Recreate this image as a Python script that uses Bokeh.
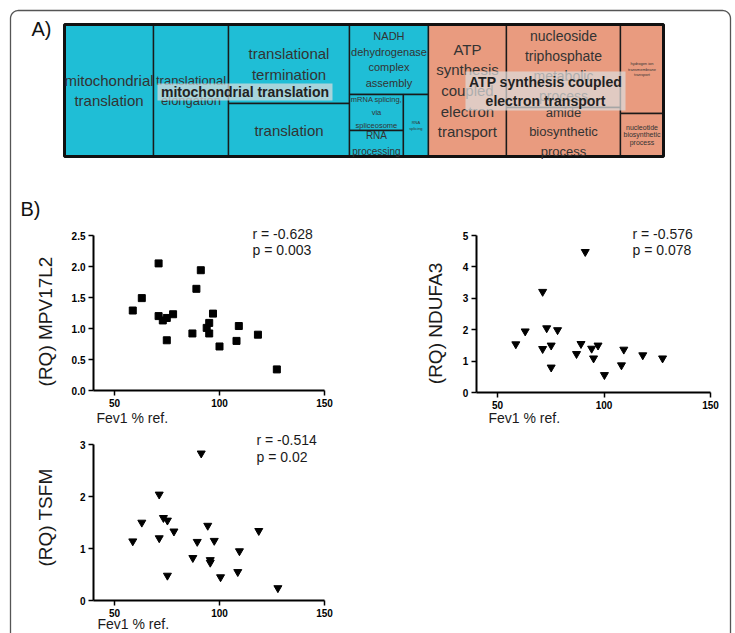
import numpy as np
from bokeh.plotting import figure
from bokeh.models import Range1d, LinearAxis, FixedTicker, NumeralTickFormatter
from bokeh.core.properties import value
from bokeh.embed import file_html
from bokeh.resources import INLINE

# ---------------- data ----------------
# A) REVIGO treemap of enriched GO terms (relative term sizes)
term_labels = [
    "mitochondrial\ntranslation",
    "translational\nelongation",
    "translational\ntermination",
    "translation",
    "NADH\ndehydrogenase\ncomplex\nassembly",
    "mRNA splicing,\nvia\nspliceosome",
    "RNA\nprocessing",
    "RNA\nsplicing",
    "ATP\nsynthesis\ncoupled\nelectron\ntransport",
    "nucleoside\ntriphosphate\nmetabolic\nprocess",
    "amide\nbiosynthetic\nprocess",
    "hydrogen ion\ntransmembrane\ntransport",
    "nucleotide\nbiosynthetic\nprocess",
]
term_sizes = [117.5, 99.0, 95.6, 64.1, 55.3, 19.4, 14.0, 15.5, 103.0, 94.6, 55.9, 38.3, 18.5]
term_cluster = [0, 0, 0, 0, 0, 0, 0, 0, 1, 1, 1, 1, 1]
cluster_names = ["mitochondrial translation", "ATP synthesis coupled\nelectron transport"]

# B) qPCR expression (RQ) against lung function (FEV1 % predicted)
fev1_mpv17l2 = [58.7, 63.0, 71.0, 71.0, 73.0, 74.9, 74.9, 77.9, 87.1, 89.0,
                91.1, 93.9, 95.1, 95.1, 96.9, 100.0, 108.1, 109.2, 118.3, 127.3]
rq_mpv17l2 = [1.29, 1.49, 2.05, 1.20, 1.13, 1.17, 0.81, 1.23, 0.92, 1.64,
              1.94, 1.01, 1.09, 0.92, 1.24, 0.71, 0.80, 1.04, 0.90, 0.34]

fev1_ndufa3 = [58.6, 63.0, 71.2, 71.2, 73.1, 75.2, 75.2, 78.2, 87.1, 89.2,
               91.2, 94.2, 95.1, 97.2, 100.2, 108.2, 109.3, 118.2, 127.5]
rq_ndufa3 = [1.54, 1.95, 3.21, 1.39, 2.05, 1.50, 0.80, 1.99, 1.23, 1.55,
             4.48, 1.40, 1.09, 1.50, 0.56, 0.87, 1.37, 1.19, 1.09]

fev1_tsfm = [58.7, 63.0, 71.3, 71.3, 73.3, 75.2, 75.2, 78.3, 87.3, 89.4,
             91.3, 94.4, 95.6, 95.6, 97.5, 100.5, 108.7, 109.5, 118.7, 127.8]
rq_tsfm = [1.14, 1.50, 2.04, 1.20, 1.59, 1.54, 0.48, 1.33, 0.82, 1.13,
           2.83, 1.44, 0.78, 0.73, 1.15, 0.45, 0.55, 0.95, 1.34, 0.24]

corr_text = [("r = -0.628", "p = 0.003"), ("r = -0.576", "p = 0.078"), ("r = -0.514", "p = 0.02")]
gene_names = ["(RQ) MPV17L2", "(RQ) NDUFA3", "(RQ) TSFM"]
x_title = "Fev1 % ref."

# slice-and-dice nesting of the treemap (indices into the term lists)
tree = ("h", [
    ("h", [0, 1, ("v", [2, 3]), ("v", [4, ("h", [("v", [5, 6]), 7])])]),
    ("h", [8, ("v", [9, 10]), ("v", [11, 12])]),
])

# ---------------- styling ----------------
W, H = 735, 633
FONT = "Liberation Sans"
cluster_colors = ["#1fbed6", "#e99b7f"]
label_sizes = [15, 13, 15, 15, 11, 7.5, 10, 4, 15, 14, 13, 4, 7]
label_heights = [1.22, 1.27, 1.22, 1.22, 1.3, 1.4, 1.5, 1.15, 1.22, 1.27, 1.27, 1.15, 1.1]

p = figure(width=W, height=H, x_range=Range1d(0, W), y_range=Range1d(H, 0),
           x_axis_type=None, y_axis_type=None, toolbar_location=None,
           output_backend="svg", min_border=0, outline_line_color=None)
p.background_fill_color = "white"
p.border_fill_color = "white"

# rounded panel border
rad = 8
arc1 = np.linspace(np.pi, 1.5 * np.pi, 12)
arc2 = np.linspace(1.5 * np.pi, 2 * np.pi, 12)
bx = [10] + list(10 + rad + rad * np.cos(arc1)) + list(730 - rad + rad * np.cos(arc2)) + [730]
by = [660] + list(10 + rad + rad * np.sin(arc1)) + list(10 + rad + rad * np.sin(arc2)) + [660]
p.line(bx, by, line_color="#555555", line_width=1.3)

# panel letters
p.text([31, 20], [28, 208], text=["A)", "B)"], text_font=value(FONT), text_font_size="20px",
       text_align="left", text_baseline="middle", text_color="#111111")

# ---------------- treemap ----------------
def node_size(node):
    if isinstance(node, int):
        return term_sizes[node]
    return sum(node_size(k) for k in node[1])


def slice_layout(node, x0, y0, x1, y1, out):
    kind, kids = node
    sizes = [node_size(k) for k in kids]
    tot = sum(sizes)
    pos = x0 if kind == "h" else y0
    for k, s in zip(kids, sizes):
        if kind == "h":
            w = (x1 - x0) * s / tot
            box = (pos, y0, pos + w, y1)
            pos += w
        else:
            h = (y1 - y0) * s / tot
            box = (x0, pos, x1, pos + h)
            pos += h
        if isinstance(k, int):
            out[k] = box
        else:
            slice_layout(k, *box, out)


TM = (64, 24, 663, 156)
cells = {}
slice_layout(tree, *TM, cells)
idx = list(range(len(term_labels)))
p.quad(left=[cells[i][0] for i in idx], right=[cells[i][2] for i in idx],
       top=[cells[i][1] for i in idx], bottom=[cells[i][3] for i in idx],
       fill_color=[cluster_colors[term_cluster[i]] for i in idx],
       line_color="#1a1a1a", line_width=1.4)
p.quad(left=[TM[0]], right=[TM[2]], top=[TM[1]], bottom=[TM[3]],
       fill_color=None, line_color="#111111", line_width=3)

for i in idx:
    x0, y0, x1, y1 = cells[i]
    p.text([(x0 + x1) / 2], [(y0 + y1) / 2], text=[term_labels[i]],
           text_font=value(FONT), text_font_size=f"{label_sizes[i]}px",
           text_line_height=label_heights[i], text_align="center",
           text_baseline="middle", text_color="#333333")

# cluster representative labels
p.quad(left=[157, 465], right=[332, 625], top=[83, 71], bottom=[100, 110],
       fill_color="#dcdcdc", fill_alpha=0.72, line_color=None)
p.text([244.5, 545], [91.5, 91], text=cluster_names, text_font=value(FONT),
       text_font_size="14px", text_font_style="bold", text_line_height=1.2,
       text_align="center", text_baseline="middle", text_color="#222222")


# ---------------- scatter panels ----------------
def fit_range(v0, v1, p0, p1, total):
    """Range whose values v0, v1 fall on canvas pixels p0, p1 (counted from the range start side)."""
    k = (v1 - v0) / (p1 - p0)
    start = v0 - p0 * k
    return Range1d(start, start + total * k)


panels = [
    # name, x fit, y fit, y bounds, y ticks, y format, marker, size, data
    ("1", (50, 100, 114, 219), (0, 2.5, H - 390, H - 235), (0, 2.5),
     [0, 0.5, 1.0, 1.5, 2.0, 2.5], "0.0", "square", 7, fev1_mpv17l2, rq_mpv17l2),
    ("2", (50, 150, 497, 710), (0, 5, H - 392, H - 235), (0, 5),
     [0, 1, 2, 3, 4, 5], "0", "inverted_triangle", 8, fev1_ndufa3, rq_ndufa3),
    ("3", (50, 100, 114, 219), (0, 3, H - 600, H - 444), (0, 3),
     [0, 1, 2, 3], "0", "inverted_triangle", 8, fev1_tsfm, rq_tsfm),
]

for name, xf, yf, yb, yticks, yfmt, marker, msize, xs, ys in panels:
    xr, yr = "x" + name, "y" + name
    p.extra_x_ranges[xr] = fit_range(*xf, W)
    p.extra_y_ranges[yr] = fit_range(*yf, H)
    common = dict(x_range_name=xr, y_range_name=yr,
                  axis_line_color="black", axis_line_width=2,
                  major_tick_line_color="black", major_tick_line_width=1.5,
                  major_tick_out=5, major_tick_in=0, minor_tick_out=0, minor_tick_in=0,
                  major_label_text_font=FONT, major_label_text_font_size="10px",
                  major_label_text_font_style="bold", major_label_text_color="black")
    xa = LinearAxis(fixed_location=yb[0], bounds=(40, 150),
                    ticker=FixedTicker(ticks=[50, 100, 150]),
                    major_label_standoff=3, **common)
    ya = LinearAxis(fixed_location=40, bounds=yb,
                    ticker=FixedTicker(ticks=yticks),
                    formatter=NumeralTickFormatter(format=yfmt),
                    major_label_standoff=3, **common)
    p.add_layout(xa, "below")
    p.add_layout(ya, "left")
    p.scatter(xs, ys, x_range_name=xr, y_range_name=yr, marker=marker,
              size=msize, fill_color="black", line_color="black")

# axis titles and correlation statistics
p.text([45, 435, 45], [321, 323, 517], text=gene_names, angle=np.pi / 2,
       text_font=value(FONT), text_font_size="19px", text_align="center",
       text_baseline="middle", text_color="#1a1a1a")
p.text([96, 488, 97], [417, 417, 623], text=[x_title] * 3,
       text_font=value(FONT), text_font_size="14px", text_align="left",
       text_baseline="middle", text_color="#1a1a1a")
p.text([252, 632, 256], [233, 233, 439], text=[c[0] for c in corr_text],
       text_font=value(FONT), text_font_size="14px", text_align="left",
       text_baseline="middle", text_color="#1a1a1a")
p.text([252, 632, 256], [249, 249, 456], text=[c[1] for c in corr_text],
       text_font=value(FONT), text_font_size="14px", text_align="left",
       text_baseline="middle", text_color="#1a1a1a")

open("out.html", "w").write(file_html(p, INLINE))
